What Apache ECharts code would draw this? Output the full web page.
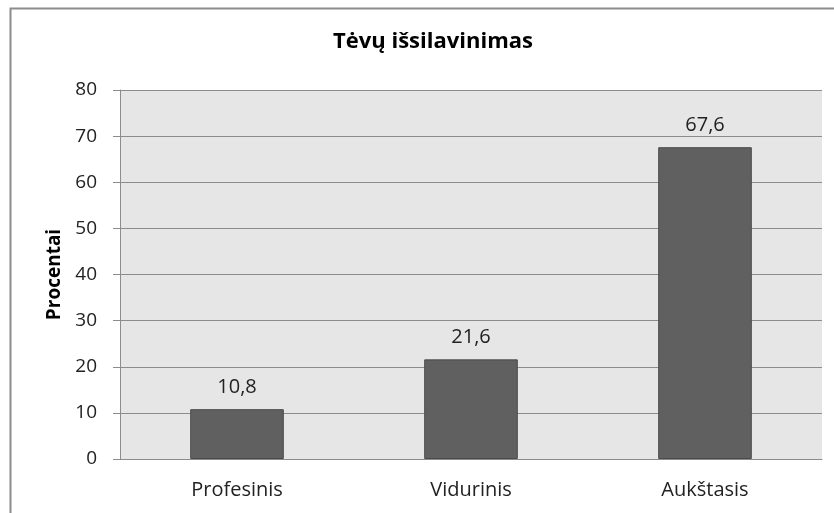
<!DOCTYPE html>
<html><head><meta charset="utf-8">
<script src="https://cdn.jsdelivr.net/npm/echarts@6/dist/echarts.min.js"></script>
<style>html,body{margin:0;padding:0;background:#fff}#c{width:834px;height:513px}</style>
</head><body><div id="c"></div>
<script>
const categories = ['Profesinis', 'Vidurinis', 'Aukštasis'];
const values = [10.8, 21.6, 67.6];
const yTicks = [0, 10, 20, 30, 40, 50, 60, 70, 80];
const titleText = 'Tėvų išsilavinimas';
const yName = 'Procentai';

const FONT = '"Open Sans", "Noto Sans", sans-serif';
const chart = echarts.init(document.getElementById('c'), null, {renderer: 'canvas'});
chart.setOption({
  animation: false,
  backgroundColor: '#fff',
  title: {
    text: titleText, left: 428, top: 26, textAlign: 'center',
    textStyle: {fontFamily: FONT, fontSize: 22, fontWeight: 'bold', color: '#000'}
  },
  graphic: [{
    type: 'rect', shape: {x: 10.5, y: 8.5, width: 900, height: 600},
    style: {fill: null, stroke: '#8c8c8c', lineWidth: 2}, silent: true, z: -10
  }],
  grid: {left: 120, right: 12, top: 90, bottom: 54, show: true, backgroundColor: '#e6e6e6', borderWidth: 0},
  xAxis: {
    type: 'category', data: categories,
    axisLine: {lineStyle: {color: '#8c8c8c', width: 1}},
    axisTick: {show: false},
    axisLabel: {fontFamily: FONT, fontSize: 20, color: '#222', margin: 21}
  },
  yAxis: {
    type: 'value', min: yTicks[0], max: yTicks[yTicks.length - 1], interval: 10,
    name: yName, nameLocation: 'middle', nameGap: 55,
    nameTextStyle: {fontFamily: FONT, fontSize: 19, fontWeight: 'bold', color: '#000'},
    axisLine: {show: true, lineStyle: {color: '#8c8c8c', width: 1}},
    axisTick: {show: true, length: 7, lineStyle: {color: '#8c8c8c'}},
    axisLabel: {fontFamily: FONT, fontSize: 19, color: '#222', margin: 23},
    splitLine: {lineStyle: {color: '#8c8c8c', width: 1}}
  },
  series: [{
    type: 'bar', data: values, barWidth: '40%',
    itemStyle: {color: '#606060', borderColor: '#4a4a4a', borderWidth: 1},
    label: {
      show: true, position: 'top', distance: 12,
      fontFamily: FONT, fontSize: 20, color: '#222',
      formatter: p => String(p.value).replace('.', ',')
    }
  }]
});
</script></body></html>
